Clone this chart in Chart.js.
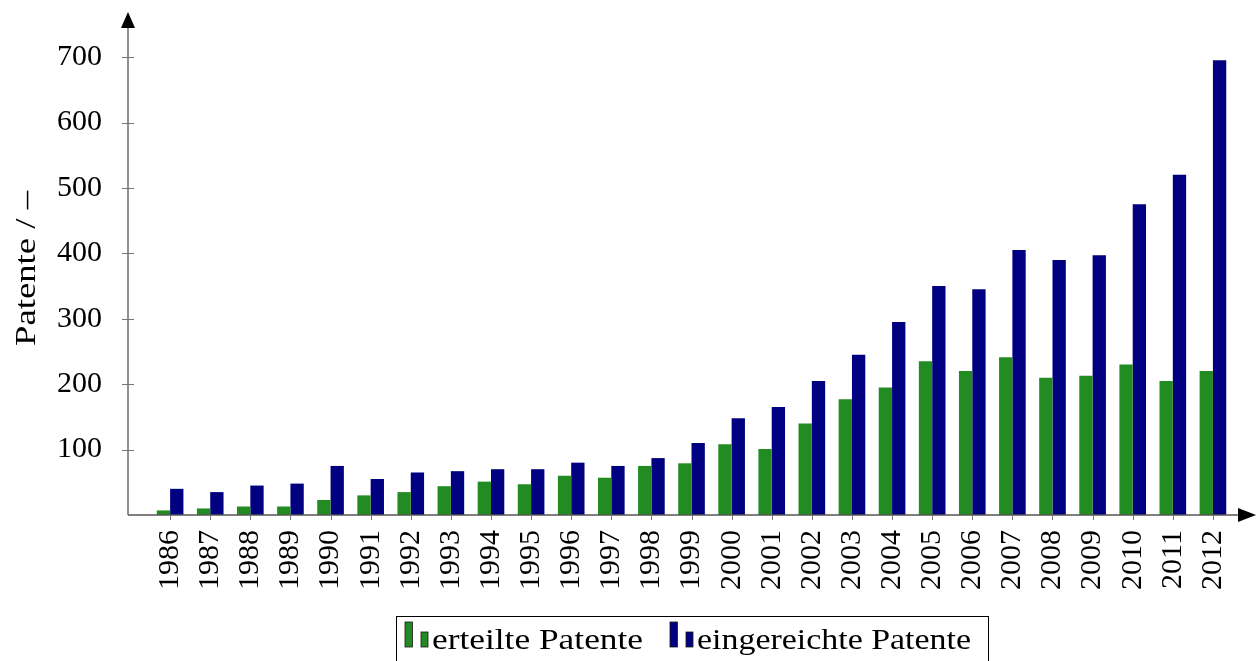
<!DOCTYPE html>
<html><head><meta charset="utf-8">
<script src="https://cdn.jsdelivr.net/npm/chart.js@4.4.0/dist/chart.umd.min.js"></script>
<style>html,body{margin:0;padding:0;background:#fff;overflow:hidden}</style>
</head><body>
<canvas id="c" width="1260" height="661"></canvas>
<script>
const years = [1986,1987,1988,1989,1990,1991,1992,1993,1994,1995,1996,1997,1998,1999,2000,2001,2002,2003,2004,2005,2006,2007,2008,2009,2010,2011,2012];
const granted = [7,10,13,13,23,30,35,44,51,47,60,57,75,79,108,101,140,177,195,235,220,241,210,213,230,205,220];
const filed = [40,35,45,48,75,55,65,67,70,70,80,75,87,110,148,165,205,245,295,350,345,405,390,397,475,520,695];
const yTicks = [100,200,300,400,500,600,700];
const seriesLabels = ['erteilte Patente','eingereichte Patente'];
const seriesColors = ['#228b22','#000080'];
const yTitle = 'Patente / –';

const FONT = 'Liberation Serif';
const AXIS = '#555555';

const decor = {
  id:'decor',
  afterDraw(chart){
    const ctx = chart.ctx, a = chart.chartArea;
    const xs = chart.scales.x, ys = chart.scales.y;
    ctx.save();
    // axes
    ctx.strokeStyle = AXIS; ctx.lineWidth = 1.3;
    ctx.beginPath();
    ctx.moveTo(a.left, a.bottom); ctx.lineTo(a.right, a.bottom);
    ctx.moveTo(a.left, a.bottom); ctx.lineTo(a.left, a.top);
    ctx.stroke();
    // ticks
    ctx.lineWidth = 1; ctx.strokeStyle = '#777';
    ctx.beginPath();
    yTicks.forEach(v => { const p = Math.round(ys.getPixelForValue(v)) + 0.5; ctx.moveTo(a.left-6, p); ctx.lineTo(a.left+6, p); });
    years.forEach(v => { const p = Math.round(xs.getPixelForValue(v)) + 0.5; ctx.moveTo(p, a.bottom); ctx.lineTo(p, a.bottom+5); });
    ctx.stroke();
    // arrows
    ctx.fillStyle = '#000';
    ctx.beginPath();
    ctx.moveTo(a.left, a.top-15); ctx.lineTo(a.left-7, a.top+1); ctx.lineTo(a.left+7, a.top+1); ctx.closePath(); ctx.fill();
    ctx.beginPath();
    ctx.moveTo(a.right+17, a.bottom); ctx.lineTo(a.right-1, a.bottom-7); ctx.lineTo(a.right-1, a.bottom+7); ctx.closePath(); ctx.fill();
    // y title
    ctx.font = '30px "' + FONT + '"';
    ctx.fillStyle = '#000';
    ctx.save();
    ctx.translate(35, 268.5);
    ctx.rotate(-Math.PI/2);
    const tw = ctx.measureText(yTitle).width;
    ctx.scale(155/tw, 1);
    ctx.textAlign = 'center'; ctx.textBaseline = 'alphabetic';
    ctx.fillText(yTitle, 0, 0);
    ctx.restore();
    // legend
    ctx.strokeStyle = '#000'; ctx.lineWidth = 1;
    ctx.strokeRect(396.5, 616.5, 592, 60);
    const xs0 = [405, 670], tw2 = [211, 274];
    seriesLabels.forEach((lab, i) => {
      const x0 = xs0[i];
      ctx.fillStyle = seriesColors[i];
      ctx.strokeStyle = '#1a1a1a'; ctx.lineWidth = 0.8;
      ctx.fillRect(x0, 622, 7.5, 25); ctx.strokeRect(x0, 622, 7.5, 25);
      ctx.fillRect(x0+16, 632, 7, 15); ctx.strokeRect(x0+16, 632, 7, 15);
      ctx.fillStyle = '#000';
      ctx.save();
      ctx.translate(x0+27, 649);
      const w = ctx.measureText(lab).width;
      ctx.scale(tw2[i]/w, 1);
      ctx.textAlign = 'left'; ctx.textBaseline = 'alphabetic';
      ctx.fillText(lab, 0, 0);
      ctx.restore();
    });
    ctx.restore();
  }
};

new Chart(document.getElementById('c'), {
  type:'bar',
  data:{
    datasets:[
      {label:seriesLabels[0], data:years.map((y,i)=>({x:y,y:granted[i]})), backgroundColor:seriesColors[0], borderWidth:0, categoryPercentage:0.664, barPercentage:1},
      {label:seriesLabels[1], data:years.map((y,i)=>({x:y,y:filed[i]})), backgroundColor:seriesColors[1], borderWidth:0, categoryPercentage:0.664, barPercentage:1}
    ]
  },
  options:{
    responsive:false, animation:false, devicePixelRatio:1,
    layout:{autoPadding:false, padding:{top:27,right:21,left:0,bottom:0}},
    plugins:{legend:{display:false}, tooltip:{enabled:false}},
    scales:{
      x:{type:'linear', min:1984.95, max:2012.65, offset:false,
        grid:{display:false}, border:{display:false},
        afterBuildTicks:s=>{ s.ticks = years.map(v=>({value:v})); },
        afterFit:s=>{ s.height = 146; s.paddingLeft = 0; s.paddingRight = 0; },
        ticks:{autoSkip:false, minRotation:90, maxRotation:90, padding:7, color:'#000', font:{family:FONT, size:30}, callback:v=>String(v)}
      },
      y:{min:0, max:746,
        grid:{display:false}, border:{display:false},
        afterBuildTicks:s=>{ s.ticks = yTicks.map(v=>({value:v})); },
        afterFit:s=>{ s.width = 128; s.paddingTop = 0; s.paddingBottom = 0; },
        ticks:{padding:18, color:'#000', font:{family:FONT, size:30}, callback:v=>String(v)}
      }
    }
  },
  plugins:[decor]
});
</script>
</body></html>
